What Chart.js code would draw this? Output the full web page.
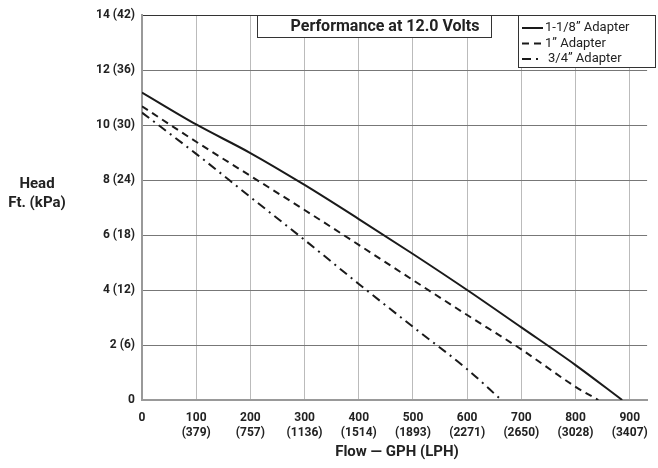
<!DOCTYPE html>
<html>
<head>
<meta charset="utf-8">
<script src="https://cdn.jsdelivr.net/npm/chart.js@4"></script>
<style>
    body { margin: 0; background: #fff; }
    #wrap { width: 658px; height: 468px; }
</style>
</head>
<body>
<div id="wrap"><canvas id="pumpChart" width="658" height="468"></canvas></div>
<script>
// Axis ticks
const flowGph = [0, 100, 200, 300, 400, 500, 600, 700, 800, 900];
const flowLph = ['', '(379)', '(757)', '(1136)', '(1514)', '(1893)', '(2271)', '(2650)', '(3028)', '(3407)'];
const headFt = [0, 2, 4, 6, 8, 10, 12, 14];
const headKpa = [0, 6, 12, 18, 24, 30, 36, 42];

// Curves (flow GPH, head ft)
const flowLarge = [0, 100, 200, 300, 400, 500, 600, 700, 800, 886];
const headLarge = [11.18, 10.02, 8.98, 7.82, 6.58, 5.31, 4.0, 2.64, 1.27, 0];
const flowMid = [0, 100, 200, 300, 400, 500, 600, 700, 800, 842];
const headMid = [10.68, 9.39, 8.15, 6.91, 5.64, 4.36, 3.09, 1.84, 0.48, 0];
const flowSmall = [0, 100, 200, 300, 400, 500, 600, 663];
const headSmall = [10.45, 8.95, 7.38, 5.82, 4.22, 2.66, 1.12, 0];

const seriesNames = ['1-1/8\u201d Adapter', '1\u201d Adapter', '3/4\u201d Adapter'];
const seriesDash = [[], [7, 5], [9, 5, 2, 5]];

const toPoints = (xs, ys) => xs.map((x, i) => ({ x: x, y: ys[i] }));

const FONT = 'Roboto, "Liberation Sans", sans-serif';

// Title box, legend box and the axis captions
const overlayPlugin = {
    id: 'overlay',
    afterDraw(chart) {
        const ctx = chart.ctx;
        ctx.save();
        ctx.lineWidth = 1;
        ctx.strokeStyle = '#333';
        ctx.fillStyle = '#fff';

        // title box
        ctx.fillRect(257, 15, 234, 22);
        ctx.strokeRect(257.5, 15.5, 234, 22);
        ctx.fillStyle = '#222';
        ctx.font = 'bold 16px ' + FONT;
        ctx.textAlign = 'center';
        ctx.textBaseline = 'middle';
        ctx.fillText('Performance at 12.0 Volts', 385, 27);

        // legend box
        ctx.fillStyle = '#fff';
        ctx.fillRect(518, 15, 138, 53);
        ctx.strokeRect(518.5, 15.5, 137, 52);
        ctx.font = '13px ' + FONT;
        ctx.textAlign = 'left';
        seriesNames.forEach((name, i) => {
            const y = 28 + i * 15.5;
            ctx.beginPath();
            ctx.setLineDash(seriesDash[i]);
            ctx.lineWidth = 2;
            ctx.strokeStyle = '#1a1a1a';
            ctx.moveTo(522, y);
            ctx.lineTo(543, y);
            ctx.stroke();
            ctx.setLineDash([]);
            ctx.fillStyle = '#222';
            ctx.fillText(name, i === 2 ? 548 : 545, y);
        });

        // captions
        ctx.font = 'bold 15px ' + FONT;
        ctx.textAlign = 'center';
        ctx.fillStyle = '#222';
        ctx.fillText('Head', 37, 184);
        ctx.fillText('Ft. (kPa)', 37, 203);
        ctx.fillText('Flow \u2014 GPH (LPH)', 397, 452);
        ctx.restore();
    }
};

const lineSet = (label, data, dash) => ({
    label: label,
    data: data,
    showLine: true,
    borderColor: '#1a1a1a',
    borderWidth: 2,
    borderDash: dash,
    pointRadius: 0,
    cubicInterpolationMode: 'monotone',
    fill: false
});

new Chart(document.getElementById('pumpChart'), {
    type: 'scatter',
    data: {
        datasets: [
            lineSet(seriesNames[0], toPoints(flowLarge, headLarge), seriesDash[0]),
            lineSet(seriesNames[1], toPoints(flowMid, headMid), seriesDash[1]),
            lineSet(seriesNames[2], toPoints(flowSmall, headSmall), seriesDash[2])
        ]
    },
    options: {
        responsive: false,
        animation: false,
        layout: { padding: { top: 15, right: 8, left: 0, bottom: 0 } },
        plugins: { legend: { display: false }, tooltip: { enabled: false } },
        scales: {
            x: {
                type: 'linear',
                min: 0,
                max: 932,
                afterBuildTicks: scale => {
                    scale.ticks = flowGph.map(v => ({ value: v }));
                },
                afterFit: scale => { scale.height = 68; },
                ticks: {
                    maxRotation: 0,
                    autoSkip: false,
                    padding: 10,
                    color: '#222',
                    font: { family: FONT, size: 12, weight: 'bold', lineHeight: 1.25 },
                    callback: v => {
                        const i = flowGph.indexOf(v);
                        return flowLph[i] ? [String(v), flowLph[i]] : String(v);
                    }
                },
                grid: { color: '#bbb', lineWidth: 1, drawTicks: false },
                border: { color: '#999', width: 2 }
            },
            y: {
                min: 0,
                max: 14,
                afterBuildTicks: scale => {
                    scale.ticks = headFt.map(v => ({ value: v }));
                },
                afterFit: scale => { scale.width = 142; },
                ticks: {
                    padding: 7,
                    color: '#222',
                    font: { family: FONT, size: 12, weight: 'bold' },
                    callback: v => {
                        const i = headFt.indexOf(v);
                        return headKpa[i] ? v + ' (' + headKpa[i] + ')' : String(v);
                    }
                },
                grid: {
                    color: ctx => ctx.tick && ctx.tick.value === 14 ? '#333' : '#777',
                    lineWidth: 1,
                    drawTicks: false
                },
                border: { color: '#999', width: 2 }
            }
        }
    },
    plugins: [overlayPlugin]
});
</script>
</body>
</html>
